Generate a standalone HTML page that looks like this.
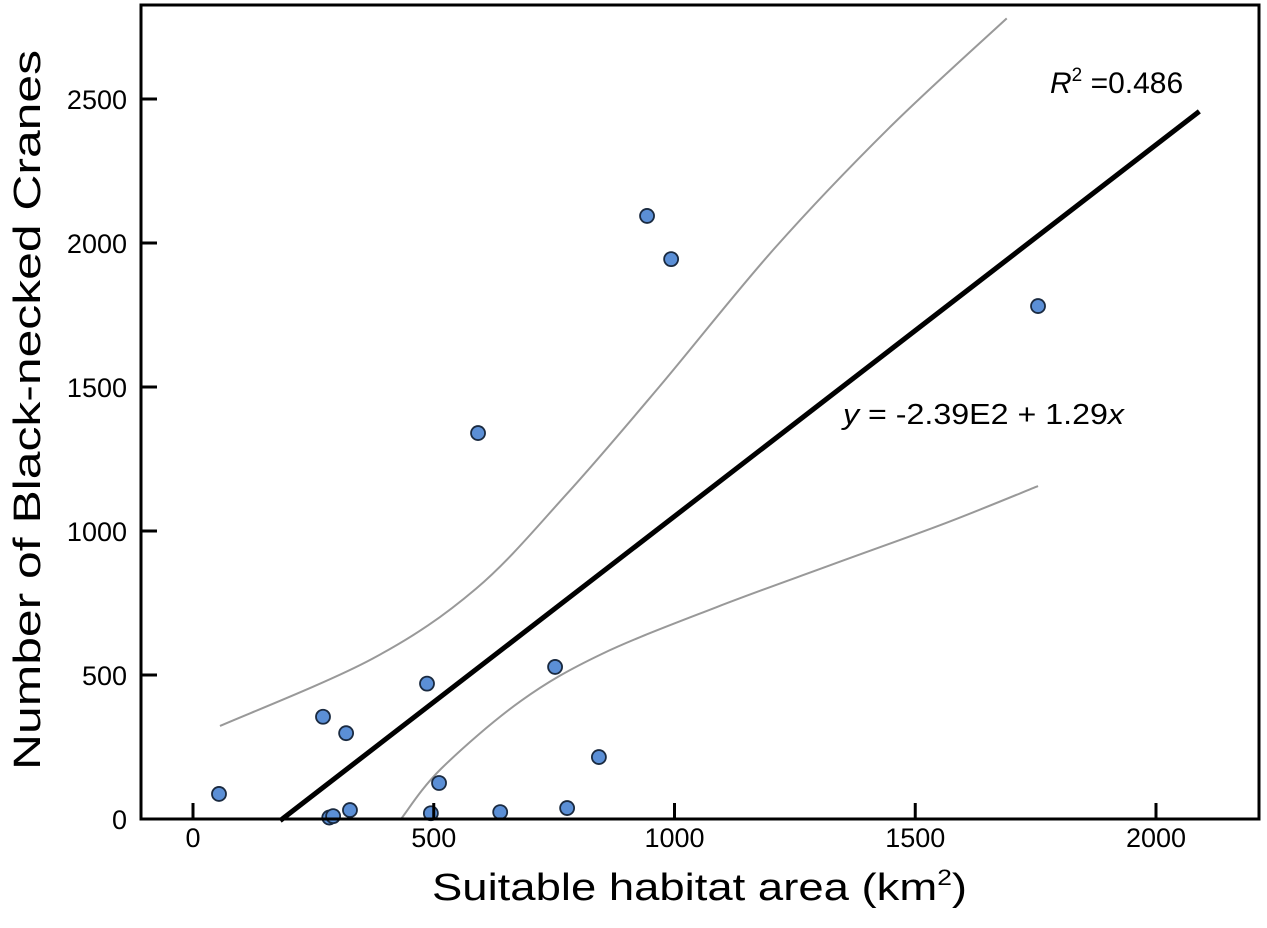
<!DOCTYPE html>
<html><head><meta charset="utf-8"><style>
body{margin:0;background:#fff;}
svg text{font-family:"Liberation Sans",Arial,sans-serif;fill:#000;}
</style></head><body>
<svg id="chart" width="1267" height="923" xmlns="http://www.w3.org/2000/svg">
<g id="ci"></g>
<g id="fit"></g>
<g id="pts"></g>
<rect x="141" y="5" width="1118" height="814" fill="none" stroke="#000" stroke-width="3"/>
<g id="axes"></g>
<text x="1050" y="93" font-size="30"><tspan font-style="italic">R</tspan><tspan font-size="19" dy="-12">2</tspan><tspan dy="12"> =0.486</tspan></text>
<text x="843" y="424" font-size="29" textLength="281" lengthAdjust="spacingAndGlyphs"><tspan font-style="italic">y</tspan> = -2.39E2 + 1.29<tspan font-style="italic">x</tspan></text>
<text x="432" y="900" font-size="38" textLength="535" lengthAdjust="spacingAndGlyphs">Suitable habitat area (km<tspan font-size="22" dy="-15">2</tspan><tspan dy="15">)</tspan></text>
<text x="0" y="0" font-size="38" text-anchor="middle" textLength="720" lengthAdjust="spacingAndGlyphs" transform="translate(40,410) rotate(-90)">Number of Black-necked Cranes</text>
</svg>
<script>
const xTicks=[0,500,1000,1500,2000];
const yTicks=[0,500,1000,1500,2000,2500];
const ptX=[54,270,283,291,318,326,486,494,511,592,638,752,777,843,943,993,1755];
const ptY=[87,355,5,10,298,31,470,20,125,1340,24,528,38,215,2094,1944,1781];
const fitX=[181,2090];
const intercept=-239, slope=1.29;
const upX=[56,372,588,777,968,1207,1446,1690];
const upY=[323,556,800,1130,1500,1980,2400,2780];
const loX=[432,515,681,849,1088,1325,1564,1755];
const loY=[0,174,410,573,736,882,1028,1156];
const sx=v=>193+v*0.4815, sy=v=>819-v*0.288;
const NS='http://www.w3.org/2000/svg';
function mk(t,a,p){const e=document.createElementNS(NS,t);for(const k in a)e.setAttribute(k,a[k]);p.appendChild(e);return e;}
function smooth(xs,ys){
 const P=xs.map((x,i)=>[sx(x),sy(ys[i])]);
 let d='M'+P[0][0]+','+P[0][1];
 for(let i=0;i<P.length-1;i++){
  const p0=P[Math.max(i-1,0)],p1=P[i],p2=P[i+1],p3=P[Math.min(i+2,P.length-1)];
  const c1=[p1[0]+(p2[0]-p0[0])/6,p1[1]+(p2[1]-p0[1])/6];
  const c2=[p2[0]-(p3[0]-p1[0])/6,p2[1]-(p3[1]-p1[1])/6];
  d+=' C'+c1+' '+c2+' '+p2;
 }
 return d;
}
const axes=document.getElementById('axes');
xTicks.forEach(v=>{
 const l=mk('line',{x1:sx(v),x2:sx(v),y1:819,y2:803,stroke:'#000','stroke-width':3},axes);
 
 
 const t=mk('text',{x:sx(v),y:847,'font-size':27,'text-anchor':'middle'},axes);t.textContent=v;
 
 
});
yTicks.forEach(v=>{
 if(v>0){const l=mk('line',{x1:141,x2:157,y1:sy(v),y2:sy(v),stroke:'#000','stroke-width':3},axes);
 
 }
 const t=mk('text',{x:127,y:sy(v)+10,'font-size':27,'text-anchor':'end'},axes);t.textContent=v;
 
 
});
const ci=document.getElementById('ci');
[[upX,upY,'upper-confidence-band'],[loX,loY,'lower-confidence-band']].forEach(([xs,ys,n])=>{
 const p=mk('path',{d:smooth(xs,ys),fill:'none',stroke:'#999','stroke-width':2},ci);
 
 
});
const fit=document.getElementById('fit');
const fl=mk('line',{x1:sx(fitX[0]),y1:sy(intercept+slope*fitX[0]),x2:sx(fitX[1]),y2:sy(intercept+slope*fitX[1]),stroke:'#000','stroke-width':5},fit);


const pts=document.getElementById('pts');
ptX.forEach((x,i)=>{
 const c=mk('circle',{cx:sx(x),cy:sy(ptY[i]),r:7,fill:'#5b8fd6',stroke:'#1a2a40','stroke-width':1.8},pts);
 
 
});
</script>
</body></html>
